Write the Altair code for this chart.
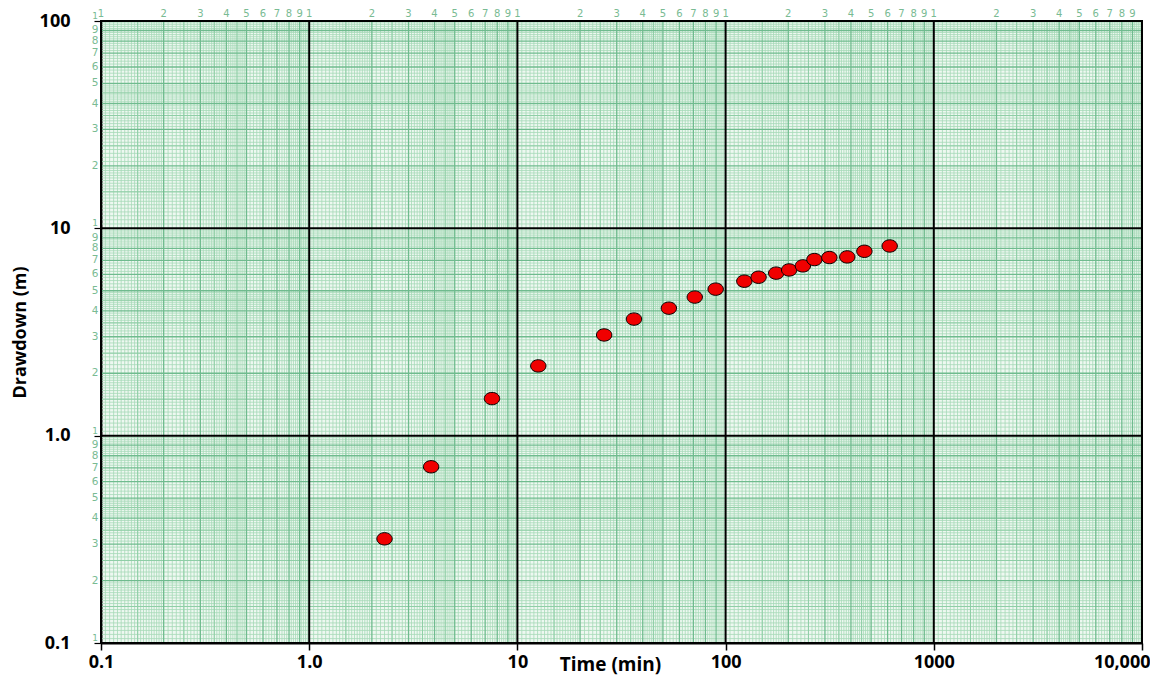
import altair as alt
import pandas as pd

# ---- data ----
time_min = [2.3, 3.85, 7.55, 12.6, 26.1, 36.3, 53.4, 71.1, 89.6, 123, 144, 175,
            202, 235, 267, 315, 384, 464, 614]
drawdown_m = [0.318, 0.708, 1.51, 2.17, 3.06, 3.65, 4.12, 4.66, 5.09, 5.56, 5.81,
              6.08, 6.30, 6.59, 7.07, 7.23, 7.28, 7.75, 8.22]

x_decades = [0.1, 1, 10, 100, 1000, 10000]
x_tick_labels = ["0.1", "1.0", "10", "100", "1000", "10,000"]
y_decades = [0.1, 1, 10, 100]
y_tick_labels = ["0.1", "1.0", "10", "100"]

paper_digits = ["2", "3", "4", "5", "6", "7", "8", "9"]
major_mantissas = [2, 3, 4, 5, 6, 7, 8, 9]
fine_mantissas = (
    [round(1 + 0.05 * i, 3) for i in range(1, 20)]
    + [round(2 + 0.1 * i, 3) for i in range(1, 30) if i % 10 != 0]
    + [round(5 + 0.2 * i, 3) for i in range(1, 25) if i % 5 != 0]
)
medium_mantissas = [1.5, 2.5, 3.5, 4.5]

# ---- tables built from the arrays ----
points = pd.DataFrame({"t": time_min, "s": drawdown_m})


def grid(decades, mantissas):
    return pd.DataFrame({"v": [d * m for d in decades[:-1] for m in mantissas]})


x_fine, y_fine = grid(x_decades, fine_mantissas), grid(y_decades, fine_mantissas)
x_med, y_med = grid(x_decades, medium_mantissas), grid(y_decades, medium_mantissas)
x_major, y_major = grid(x_decades, major_mantissas), grid(y_decades, major_mantissas)
x_dec = pd.DataFrame({"v": x_decades})
y_dec = pd.DataFrame({"v": y_decades})


def paper_labels(decades, with_last_one=False):
    rows = []
    for d in decades[:-1]:
        rows.append({"v": d, "lab": "1", "one": 1})
        for m, lab in zip(major_mantissas, paper_digits):
            rows.append({"v": d * m, "lab": lab, "one": 0})
    if with_last_one:
        rows.append({"v": decades[-1], "lab": "1", "one": 1})
    return pd.DataFrame(rows)


x_paper = paper_labels(x_decades)
y_paper = paper_labels(y_decades, with_last_one=True)
y_paper_digits = y_paper[y_paper["one"] == 0]
y_paper_ones = y_paper[y_paper["one"] == 1]


def label_expr(decades, labels):
    expr = "'" + labels[-1] + "'"
    for i in range(len(decades) - 2, -1, -1):
        cut = decades[i] * 5
        expr = f"datum.value < {cut} ? '{labels[i]}' : ({expr})"
    return expr


xs = alt.Scale(type="log", domain=[x_decades[0], x_decades[-1]], nice=False)
ys = alt.Scale(type="log", domain=[y_decades[0], y_decades[-1]], nice=False)

xaxis = alt.Axis(
    values=x_decades, labelExpr=label_expr(x_decades, x_tick_labels),
    title="Time (min)", titleX=509, titleY=21, titleBaseline="middle",
    titleAlign="center", titleFontSize=19, titleFontWeight="bold",
    labelFontSize=18, labelFontWeight="bold", labelColor="black",
    labelAlign=alt.ExprRef(expr="datum.value > 5000 ? 'right' : 'center'"),
    labelOffset=alt.ExprRef(expr="datum.value > 5000 ? 8 : 0"),
    labelPadding=3, tickSize=7, tickColor="black", tickWidth=1.5,
    domainColor="black", domainWidth=2, grid=False, labelFlush=False,
    labelOverlap=False,
)
yaxis = alt.Axis(
    values=y_decades, labelExpr=label_expr(y_decades, y_tick_labels),
    title="Drawdown (m)", titleX=-81, titleY=311, titleAngle=-90,
    titleBaseline="middle", titleAlign="center", titleFontSize=18,
    titleFontWeight="bold",
    labelFontSize=18, labelFontWeight="bold", labelColor="black",
    labelPadding=24, tickSize=7, tickColor="black", tickWidth=1.2,
    domainColor="black", domainWidth=2, grid=False, labelFlush=False,
    labelOverlap=False,
)


def X(field="v"):
    return alt.X(f"{field}:Q", scale=xs, axis=xaxis)


def Y(field="v"):
    return alt.Y(f"{field}:Q", scale=ys, axis=yaxis)


fine_c = "#a6d9b7"
med_c = "#8fcea6"
major_c = "#6fbb8e"
label_c = "#79bb93"

layers = [
    alt.Chart(x_fine).mark_rule(color=fine_c, strokeWidth=0.8).encode(x=X()),
    alt.Chart(y_fine).mark_rule(color=fine_c, strokeWidth=0.8).encode(y=Y()),
    alt.Chart(x_med).mark_rule(color=med_c, strokeWidth=1).encode(x=X()),
    alt.Chart(y_med).mark_rule(color=med_c, strokeWidth=1).encode(y=Y()),
    alt.Chart(x_major).mark_rule(color=major_c, strokeWidth=1.3).encode(x=X()),
    alt.Chart(y_major).mark_rule(color=major_c, strokeWidth=1.3).encode(y=Y()),
    alt.Chart(x_dec).mark_rule(color="black", strokeWidth=2).encode(x=X()),
    alt.Chart(y_dec).mark_rule(color="black", strokeWidth=2).encode(y=Y()),
    alt.Chart(x_paper).mark_text(color=label_c, fontSize=10, baseline="middle",
                                 align="center", font="DejaVu Sans")
    .encode(x=X(), y=alt.value(-7.5), text="lab:N"),
    alt.Chart(y_paper_digits).mark_text(color=label_c, fontSize=10.5,
                                        baseline="middle", align="center",
                                        font="DejaVu Sans")
    .encode(y=Y(), x=alt.value(-6), text="lab:N"),
    alt.Chart(y_paper_ones).mark_text(color=label_c, fontSize=9,
                                      baseline="middle", align="center",
                                      font="DejaVu Sans", dy=-5)
    .encode(y=Y(), x=alt.value(-6), text="lab:N"),
    alt.Chart(points).mark_point(
        shape="M -1.18 0 A 1.18 0.95 0 1 1 1.18 0 A 1.18 0.95 0 1 1 -1.18 0 Z",
        filled=True, fill="#f00000", stroke="black", strokeWidth=1,
        size=170, opacity=1,
    ).encode(x=X("t"), y=Y("s")),
]

chart = (
    alt.layer(*layers)
    .properties(
        width=1041, height=622,
        autosize=alt.AutoSizeParams(type="none"),
        padding={"left": 93, "top": 13, "right": 8, "bottom": 32},
    )
    .configure(font="Open Sans")
    .configure_view(fill="#eef8f1", stroke="black", strokeWidth=2)
)

chart.save("out.html", embed_options={"renderer": "svg", "actions": False})
